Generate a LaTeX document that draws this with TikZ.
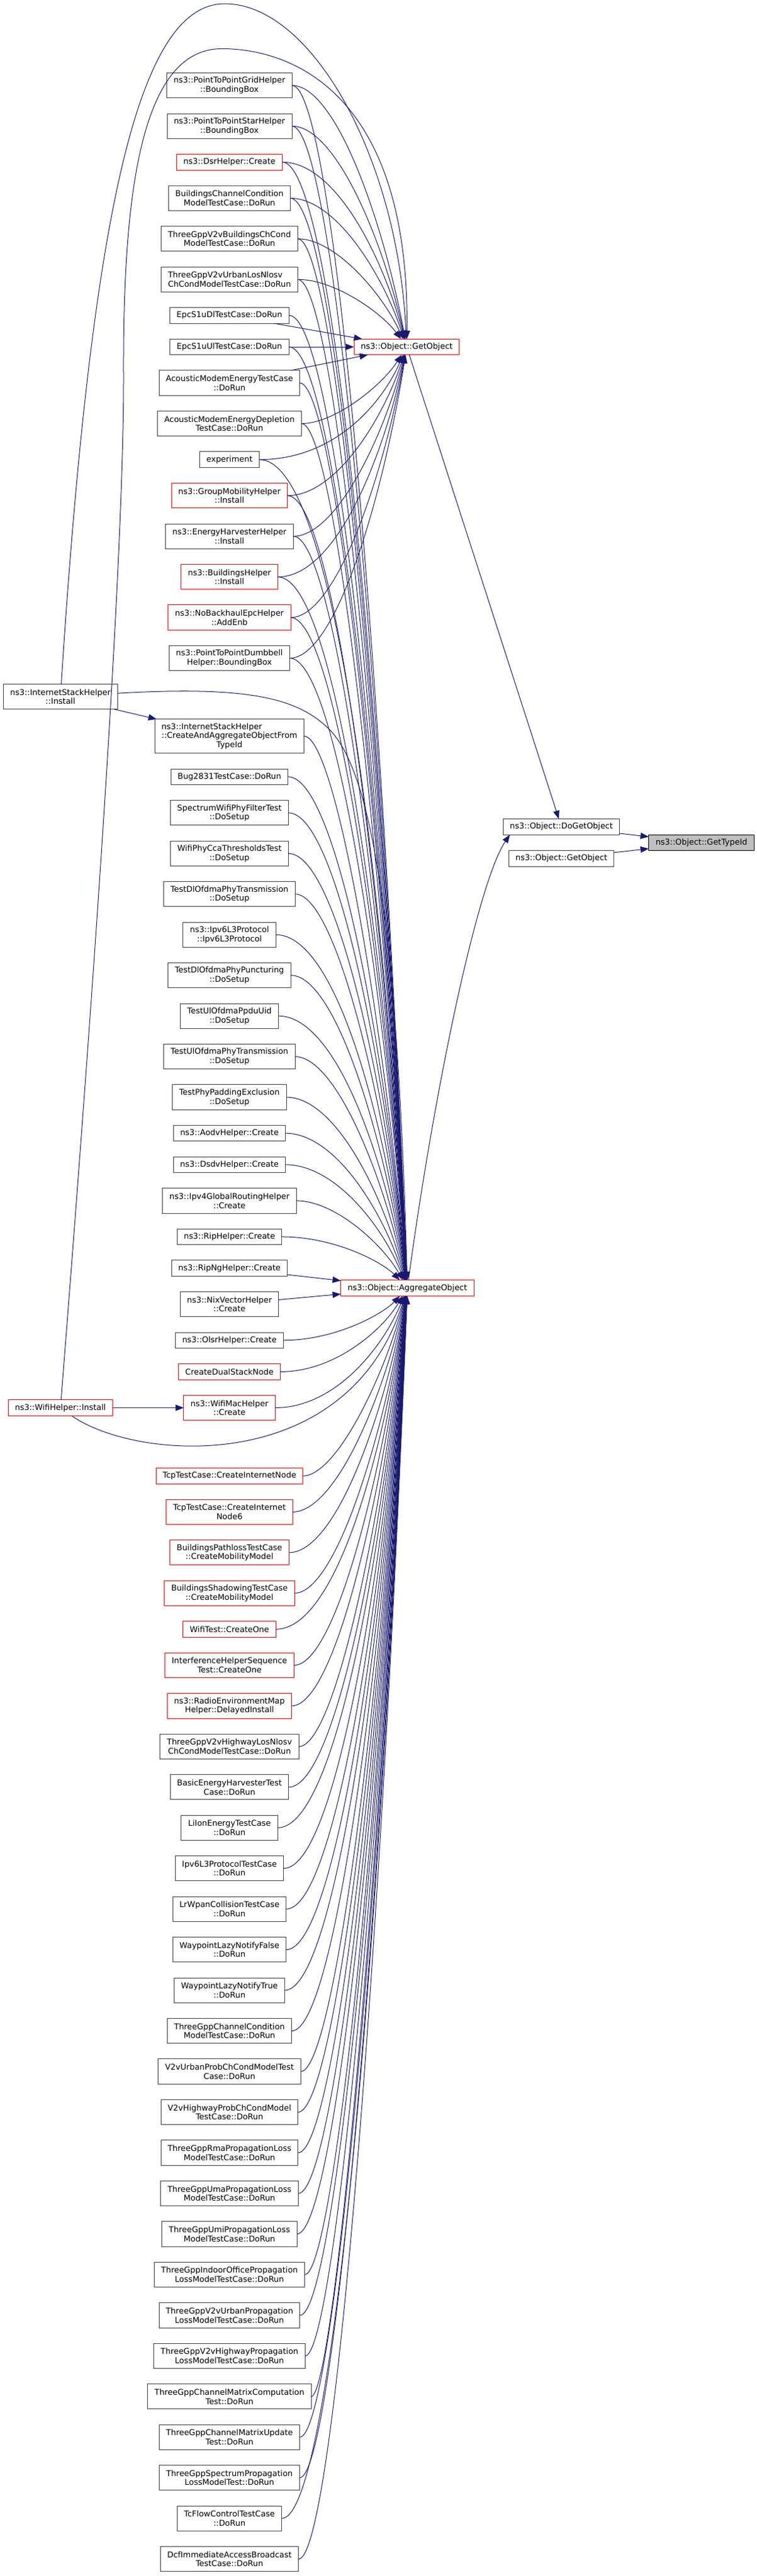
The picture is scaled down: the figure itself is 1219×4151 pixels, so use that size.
\documentclass[tikz,border=0pt]{standalone}
\usepackage{fontspec}
\usetikzlibrary{positioning,calc,arrows.meta}
\newfontfamily\dxfont{DejaVu Sans}
\definecolor{edgeblue}{HTML}{191970}
\definecolor{boxgray}{HTML}{404040}
\definecolor{selgray}{HTML}{BFBFBF}

\begin{document}
\begin{tikzpicture}[x=0.75pt,y=-0.75pt,node distance=18.9pt]
    \tikzstyle{fn}=[draw=boxgray, fill=white, line width=0.75pt,
        font=\dxfont\fontsize{9.7pt}{11pt}\selectfont,
        inner xsep=8.25pt, inner ysep=2pt, outer sep=0pt, align=center,
        minimum height=19.1pt]
    \tikzstyle{two}=[minimum height=30.2pt]
    \tikzstyle{three}=[minimum height=41.25pt]
    \tikzstyle{trunc}=[draw=red]
    \tikzstyle{call}=[draw=edgeblue, line width=0.75pt,
        -{Triangle[length=10pt,width=7.5pt]}]
    \tikzstyle{fan}=[call, to path={.. controls ($(\tikztostart)+(170,0)$)
        and ($(\tikztotarget)!.5!(\tikztotarget |- \tikztostart)+(-40,0)$) .. (\tikztotarget)}]

    \useasboundingbox (0,0) rectangle (1219,4151);

    % callers
    \node[fn,two] (n1) at (369.5,137.75) {ns3::PointToPointGridHelper\\::BoundingBox};
    \node[fn,two,below=of n1] (n2) {ns3::PointToPointStarHelper\\::BoundingBox};
    \node[fn,trunc,below=of n2] (n3) {ns3::DsrHelper::Create};
    \node[fn,two,below=of n3] (n4) {BuildingsChannelCondition\\ModelTestCase::DoRun};
    \node[fn,two,below=of n4] (n5) {ThreeGppV2vBuildingsChCond\\ModelTestCase::DoRun};
    \node[fn,two,align=left,below=of n5] (n6) {ThreeGppV2vUrbanLosNlosv\\ChCondModelTestCase::DoRun};
    \node[fn,below=of n6] (n7) {EpcS1uDlTestCase::DoRun};
    \node[fn,below=of n7] (n8) {EpcS1uUlTestCase::DoRun};
    \node[fn,two,below=of n8] (n9) {AcousticModemEnergyTestCase\\::DoRun};
    \node[fn,two,below=of n9] (n10) {AcousticModemEnergyDepletion\\TestCase::DoRun};
    \node[fn,below=of n10] (n11) {experiment};
    \node[fn,two,trunc,below=of n11] (n12) {ns3::GroupMobilityHelper\\::Install};
    \node[fn,two,below=of n12] (n13) {ns3::EnergyHarvesterHelper\\::Install};
    \node[fn,two,trunc,below=of n13] (n14) {ns3::BuildingsHelper\\::Install};
    \node[fn,two,trunc,below=of n14] (n15) {ns3::NoBackhaulEpcHelper\\::AddEnb};
    \node[fn,two,below=of n15] (n16) {ns3::PointToPointDumbbell\\Helper::BoundingBox};
    \node[fn,three,align=left,below=58.6pt of n16] (n17) {ns3::InternetStackHelper\\::CreateAndAggregateObjectFrom\\\hspace*{\fill}TypeId\hspace*{\fill}};
    \node[fn,below=of n17] (n18) {Bug2831TestCase::DoRun};
    \node[fn,two,below=of n18] (n19) {SpectrumWifiPhyFilterTest\\::DoSetup};
    \node[fn,two,below=of n19] (n20) {WifiPhyCcaThresholdsTest\\::DoSetup};
    \node[fn,two,below=of n20] (n21) {TestDlOfdmaPhyTransmission\\::DoSetup};
    \node[fn,two,below=of n21] (n22) {ns3::Ipv6L3Protocol\\::Ipv6L3Protocol};
    \node[fn,two,below=of n22] (n23) {TestDlOfdmaPhyPuncturing\\::DoSetup};
    \node[fn,two,below=of n23] (n24) {TestUlOfdmaPpduUid\\::DoSetup};
    \node[fn,two,below=of n24] (n25) {TestUlOfdmaPhyTransmission\\::DoSetup};
    \node[fn,two,below=of n25] (n26) {TestPhyPaddingExclusion\\::DoSetup};
    \node[fn,below=of n26] (n27) {ns3::AodvHelper::Create};
    \node[fn,below=of n27] (n28) {ns3::DsdvHelper::Create};
    \node[fn,two,below=of n28] (n29) {ns3::Ipv4GlobalRoutingHelper\\::Create};
    \node[fn,below=of n29] (n30) {ns3::RipHelper::Create};
    \node[fn,below=of n30] (n31) {ns3::RipNgHelper::Create};
    \node[fn,two,below=of n31] (n32) {ns3::NixVectorHelper\\::Create};
    \node[fn,below=of n32] (n33) {ns3::OlsrHelper::Create};
    \node[fn,trunc,below=of n33] (n34) {CreateDualStackNode};
    \node[fn,two,trunc,below=of n34] (n35) {ns3::WifiMacHelper\\::Create};
    \node[fn,trunc,below=57.7pt of n35] (n36) {TcpTestCase::CreateInternetNode};
    \node[fn,two,trunc,below=of n36] (n37) {TcpTestCase::CreateInternet\\Node6};
    \node[fn,two,trunc,below=of n37] (n38) {BuildingsPathlossTestCase\\::CreateMobilityModel};
    \node[fn,two,trunc,below=of n38] (n39) {BuildingsShadowingTestCase\\::CreateMobilityModel};
    \node[fn,trunc,below=of n39] (n40) {WifiTest::CreateOne};
    \node[fn,two,trunc,below=of n40] (n41) {InterferenceHelperSequence\\Test::CreateOne};
    \node[fn,two,trunc,below=of n41] (n42) {ns3::RadioEnvironmentMap\\Helper::DelayedInstall};
    \node[fn,two,below=of n42] (n43) {ThreeGppV2vHighwayLosNlosv\\ChCondModelTestCase::DoRun};
    \node[fn,two,below=of n43] (n44) {BasicEnergyHarvesterTest\\Case::DoRun};
    \node[fn,two,below=of n44] (n45) {LiIonEnergyTestCase\\::DoRun};
    \node[fn,two,below=of n45] (n46) {Ipv6L3ProtocolTestCase\\::DoRun};
    \node[fn,two,below=of n46] (n47) {LrWpanCollisionTestCase\\::DoRun};
    \node[fn,two,below=of n47] (n48) {WaypointLazyNotifyFalse\\::DoRun};
    \node[fn,two,below=of n48] (n49) {WaypointLazyNotifyTrue\\::DoRun};
    \node[fn,two,below=of n49] (n50) {ThreeGppChannelCondition\\ModelTestCase::DoRun};
    \node[fn,two,below=of n50] (n51) {V2vUrbanProbChCondModelTest\\Case::DoRun};
    \node[fn,two,below=of n51] (n52) {V2vHighwayProbChCondModel\\TestCase::DoRun};
    \node[fn,two,below=of n52] (n53) {ThreeGppRmaPropagationLoss\\ModelTestCase::DoRun};
    \node[fn,two,below=of n53] (n54) {ThreeGppUmaPropagationLoss\\ModelTestCase::DoRun};
    \node[fn,two,below=of n54] (n55) {ThreeGppUmiPropagationLoss\\ModelTestCase::DoRun};
    \node[fn,two,below=of n55] (n56) {ThreeGppIndoorOfficePropagation\\LossModelTestCase::DoRun};
    \node[fn,two,below=of n56] (n57) {ThreeGppV2vUrbanPropagation\\LossModelTestCase::DoRun};
    \node[fn,two,below=of n57] (n58) {ThreeGppV2vHighwayPropagation\\LossModelTestCase::DoRun};
    \node[fn,two,below=of n58] (n59) {ThreeGppChannelMatrixComputation\\Test::DoRun};
    \node[fn,two,below=of n59] (n60) {ThreeGppChannelMatrixUpdate\\Test::DoRun};
    \node[fn,two,below=of n60] (n61) {ThreeGppSpectrumPropagation\\LossModelTest::DoRun};
    \node[fn,two,below=of n61] (n62) {TcFlowControlTestCase\\::DoRun};
    \node[fn,two,below=of n62] (n63) {DcfImmediateAccessBroadcast\\TestCase::DoRun};

    % outer callers
    \coordinate (leftcol) at (97.3,0);
    \node[fn,two] (isinst) at (97.3,1122.5) {ns3::InternetStackHelper\\::Install};
    \node[fn,trunc] (wifiinst) at (n35 -| leftcol) {ns3::WifiHelper::Install};

    % callees
    \coordinate (col3) at (655,0);
    \node[fn,trunc] (getobj) at (n8 -| col3) {ns3::Object::GetObject};
    \node[fn,trunc] (aggobj) at (656,2075.5) {ns3::Object::AggregateObject};
    \node[fn] (dogetobj) at (904,1332.3) {ns3::Object::DoGetObject};
    \node[fn] (getobj2) at (904,1383.3) {ns3::Object::GetObject};
    \node[fn,draw=black,fill=selgray] (typeid) at (1129.5,1358) {ns3::Object::GetTypeId};

    \path (n1) edge[fan] (getobj) (n1) edge[fan] (aggobj)
          (n2) edge[fan] (getobj) (n2) edge[fan] (aggobj)
          (n3) edge[fan] (getobj) (n3) edge[fan] (aggobj)
          (n4) edge[fan] (getobj) (n4) edge[fan] (aggobj)
          (n5) edge[fan] (getobj) (n5) edge[fan] (aggobj)
          (n6) edge[fan] (getobj) (n6) edge[fan] (aggobj)
          (n7) edge[call] (getobj) (n7) edge[fan] (aggobj)
          (n8) edge[call] (getobj) (n8) edge[fan] (aggobj)
          (n9) edge[call] (getobj) (n9) edge[fan] (aggobj)
          (n10) edge[fan] (getobj) (n10) edge[fan] (aggobj)
          (n11) edge[fan] (getobj) (n11) edge[fan] (aggobj)
          (n12) edge[fan] (getobj) (n12) edge[fan] (aggobj)
          (n13) edge[fan] (getobj) (n13) edge[fan] (aggobj)
          (n14) edge[fan] (getobj) (n14) edge[fan] (aggobj)
          (n15) edge[fan] (getobj) (n15) edge[fan] (aggobj)
          (n16) edge[fan] (getobj) (n16) edge[fan] (aggobj)
          (n17) edge[fan] (aggobj) (n18) edge[fan] (aggobj)
          (n19) edge[fan] (aggobj) (n20) edge[fan] (aggobj)
          (n21) edge[fan] (aggobj) (n22) edge[fan] (aggobj)
          (n23) edge[fan] (aggobj) (n24) edge[fan] (aggobj)
          (n25) edge[fan] (aggobj) (n26) edge[fan] (aggobj)
          (n27) edge[fan] (aggobj) (n28) edge[fan] (aggobj)
          (n29) edge[fan] (aggobj) (n30) edge[fan] (aggobj)
          (n31) edge[call] (aggobj) (n32) edge[call] (aggobj)
          (n33) edge[fan] (aggobj) (n34) edge[fan] (aggobj)
          (n35) edge[fan] (aggobj) (n36) edge[fan] (aggobj)
          (n37) edge[fan] (aggobj) (n38) edge[fan] (aggobj)
          (n39) edge[fan] (aggobj) (n40) edge[fan] (aggobj)
          (n41) edge[fan] (aggobj) (n42) edge[fan] (aggobj)
          (n43) edge[fan] (aggobj) (n44) edge[fan] (aggobj)
          (n45) edge[fan] (aggobj) (n46) edge[fan] (aggobj)
          (n47) edge[fan] (aggobj) (n48) edge[fan] (aggobj)
          (n49) edge[fan] (aggobj) (n50) edge[fan] (aggobj)
          (n51) edge[fan] (aggobj) (n52) edge[fan] (aggobj)
          (n53) edge[fan] (aggobj) (n54) edge[fan] (aggobj)
          (n55) edge[fan] (aggobj) (n56) edge[fan] (aggobj)
          (n57) edge[fan] (aggobj) (n58) edge[fan] (aggobj)
          (n59) edge[fan] (aggobj) (n60) edge[fan] (aggobj)
          (n61) edge[fan] (aggobj) (n62) edge[fan] (aggobj)
          (n63) edge[fan] (aggobj)
          (isinst) edge[call] (n17)
          (wifiinst) edge[call] (n35)
          (getobj) edge[call] (dogetobj)
          (dogetobj) edge[call] (typeid)
          (getobj2) edge[call] (typeid);

    % long arcs over the top
    \draw[call] (isinst) .. controls (150,300) and (230,6) .. (362,6)
        .. controls (500,6) and (640,250) .. (getobj);
    \draw[call] (wifiinst) .. controls (150,1600) and (200,900) .. (199,600)
        .. controls (198,300) and (230,78.5) .. (357,78.5)
        .. controls (470,78.5) and (660,150) .. (getobj);
    \draw[call] (isinst) .. controls (400,1105) and (480,1125) .. (530,1175)
        .. controls (600,1245) and (640,1500) .. (aggobj);
    \draw[call] (wifiinst) .. controls (220,2355) and (560,2380) .. (aggobj);
    \draw[call] (aggobj) .. controls (700,1750) and (770,1420) .. ($(dogetobj.south west)+(11,0)$);
\end{tikzpicture}
\end{document}
